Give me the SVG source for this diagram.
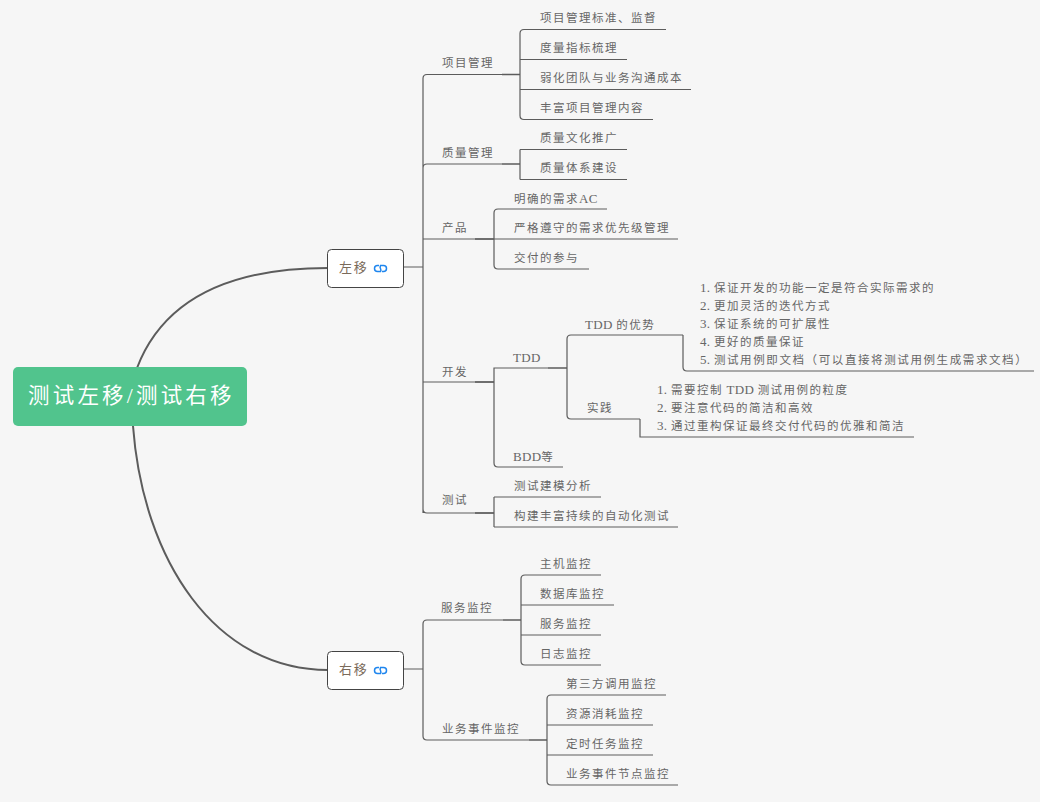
<svg xmlns="http://www.w3.org/2000/svg" width="1040" height="802" viewBox="0 0 1040 802">
<style>
text{font-family:"Liberation Serif","Noto Sans CJK SC",serif;font-size:11.5px;letter-spacing:1.5px;fill:#666}
.a{font-size:13px;letter-spacing:.3px}
.c{fill:none;stroke:#5c5c5c;stroke-width:1.2}
.m{fill:none;stroke:#5c5c5c;stroke-width:2}
.t{fill:none;stroke:#5c5c5c;stroke-width:1.6}
.k{fill:#fff;stroke:#444;stroke-width:1}
.i{fill:none;stroke:#1f86ee;stroke-width:1.5}
</style>
<rect width="1040" height="802" fill="#f6f6f6"/>
<g id="connectors">
<path class="m" d="M137 368C165 295 235 268 328 268"/>
<path class="m" d="M133 426C143 560 215 670 328 670"/>
<path class="c" d="M404 267H423M427 74.500H502M423 513V78.500Q423 74.500 427 74.500M423 168Q423 164 427 164H502M423 239H494M423 382H494M423 509Q423 513 427 513H494"/>
<path class="t" d="M502 74.500H520M502 164H520M475 239H494M475 382H494M475 513H494M548 368H567"/>
<path class="c" d="M520 74.500V33.500Q520 29.500 524 29.500H666M520 59.500H627M520 89.500H691M520 74.500V115.500Q520 119.500 524 119.500H653"/>
<path class="c" d="M520 149.500V179.500M520 149.500H627M520 179.500H627"/>
<path class="c" d="M494 239V213Q494 209 498 209H607M494 239H678M494 239V265Q494 269 498 269H589"/>
<path class="c" d="M494 382V368H548M494 382V463Q494 467 498 467H563"/>
<path class="c" d="M567 368V339Q567 335 571 335H683M567 368V415Q567 419 571 419H640"/>
<path class="c" d="M683 335V367Q683 371 687 371H1034M640 419V437H914"/>
<path class="c" d="M494 497V527M494 497H601M494 527H678"/>
<path class="c" d="M404 669H423M423 669V624Q423 620 427 620H503M423 669V736Q423 740 427 740H529"/>
<path class="t" d="M503 620H521M529 740H547"/>
<path class="c" d="M521 620V579Q521 575 525 575H601M521 605H614M521 635H601M521 620V661Q521 665 525 665H601"/>
<path class="c" d="M547 740V699Q547 695 551 695H666M547 725H653M547 755H653M547 740V781Q547 785 551 785H678"/>
</g>
<g id="root"><rect x="13" y="367" width="234" height="59" rx="5" fill="#51c48d"/><text x="28" y="403" style="font-size:21.500px;letter-spacing:3.200px;fill:#fff">测试左移/测试右移</text></g>
<g id="left"><rect class="k" x="327.500" y="249.500" width="76" height="38" rx="4"/><text x="339" y="272" style="font-size:13px;letter-spacing:1.800px;fill:#7a6a5a">左移</text><path class="i" d="M379 265.500h-1.500a3 3 0 0 0 0 6h3a3 3 0 0 0 0-3M382 271.500h1.500a3 3 0 0 0 0-6h-3a3 3 0 0 0 0 3"/></g>
<g id="right"><rect class="k" x="327.500" y="651.500" width="76" height="38" rx="4"/><text x="339" y="674" style="font-size:13px;letter-spacing:1.800px;fill:#7a6a5a">右移</text><path class="i" d="M379 667.500h-1.500a3 3 0 0 0 0 6h3a3 3 0 0 0 0-3M382 673.500h1.500a3 3 0 0 0 0-6h-3a3 3 0 0 0 0 3"/></g>
<g id="n-pm"><text x="442" y="67">项目管理</text></g>
<g id="n-pm1"><text x="540" y="22">项目管理标准、监督</text></g>
<g id="n-pm2"><text x="540" y="52">度量指标梳理</text></g>
<g id="n-pm3"><text x="540" y="82">弱化团队与业务沟通成本</text></g>
<g id="n-pm4"><text x="540" y="112">丰富项目管理内容</text></g>
<g id="n-qm"><text x="442" y="157">质量管理</text></g>
<g id="n-qm1"><text x="540" y="142">质量文化推广</text></g>
<g id="n-qm2"><text x="540" y="172">质量体系建设</text></g>
<g id="n-prod"><text x="442" y="232">产品</text></g>
<g id="n-prod1"><text x="514" y="203">明确的需求<tspan class="a">AC</tspan></text></g>
<g id="n-prod2"><text x="514" y="232">严格遵守的需求优先级管理</text></g>
<g id="n-prod3"><text x="514" y="262">交付的参与</text></g>
<g id="n-dev"><text x="442" y="376">开发</text></g>
<g id="n-tdd"><text x="513" y="362" class="a">TDD</text></g>
<g id="n-adv"><text x="585" y="329"><tspan class="a">TDD </tspan>的优势</text></g>
<g id="n-advlist">
<text x="700" y="292"><tspan class="a">1. </tspan>保证开发的功能一定是符合实际需求的</text>
<text x="700" y="310"><tspan class="a">2. </tspan>更加灵活的迭代方式</text>
<text x="700" y="328"><tspan class="a">3. </tspan>保证系统的可扩展性</text>
<text x="700" y="346"><tspan class="a">4. </tspan>更好的质量保证</text>
<text x="700" y="364" style="letter-spacing:1.6px"><tspan class="a">5. </tspan>测试用例即文档（可以直接将测试用例生成需求文档）</text>
</g>
<g id="n-prac"><text x="587" y="412">实践</text></g>
<g id="n-praclist">
<text x="657" y="394"><tspan class="a">1. </tspan>需要控制<tspan class="a"> TDD </tspan>测试用例的粒度</text>
<text x="657" y="412"><tspan class="a">2. </tspan>要注意代码的简洁和高效</text>
<text x="657" y="430"><tspan class="a">3. </tspan>通过重构保证最终交付代码的优雅和简洁</text>
</g>
<g id="n-bdd"><text x="513" y="461"><tspan class="a">BDD</tspan>等</text></g>
<g id="n-test"><text x="442" y="504">测试</text></g>
<g id="n-test1"><text x="514" y="490">测试建模分析</text></g>
<g id="n-test2"><text x="514" y="520">构建丰富持续的自动化测试</text></g>
<g id="n-svc"><text x="441" y="612">服务监控</text></g>
<g id="n-svc1"><text x="540" y="568">主机监控</text></g>
<g id="n-svc2"><text x="540" y="598">数据库监控</text></g>
<g id="n-svc3"><text x="540" y="628">服务监控</text></g>
<g id="n-svc4"><text x="540" y="658">日志监控</text></g>
<g id="n-biz"><text x="442" y="733">业务事件监控</text></g>
<g id="n-biz1"><text x="566" y="688">第三方调用监控</text></g>
<g id="n-biz2"><text x="566" y="718">资源消耗监控</text></g>
<g id="n-biz3"><text x="566" y="748">定时任务监控</text></g>
<g id="n-biz4"><text x="566" y="778">业务事件节点监控</text></g>
</svg>
